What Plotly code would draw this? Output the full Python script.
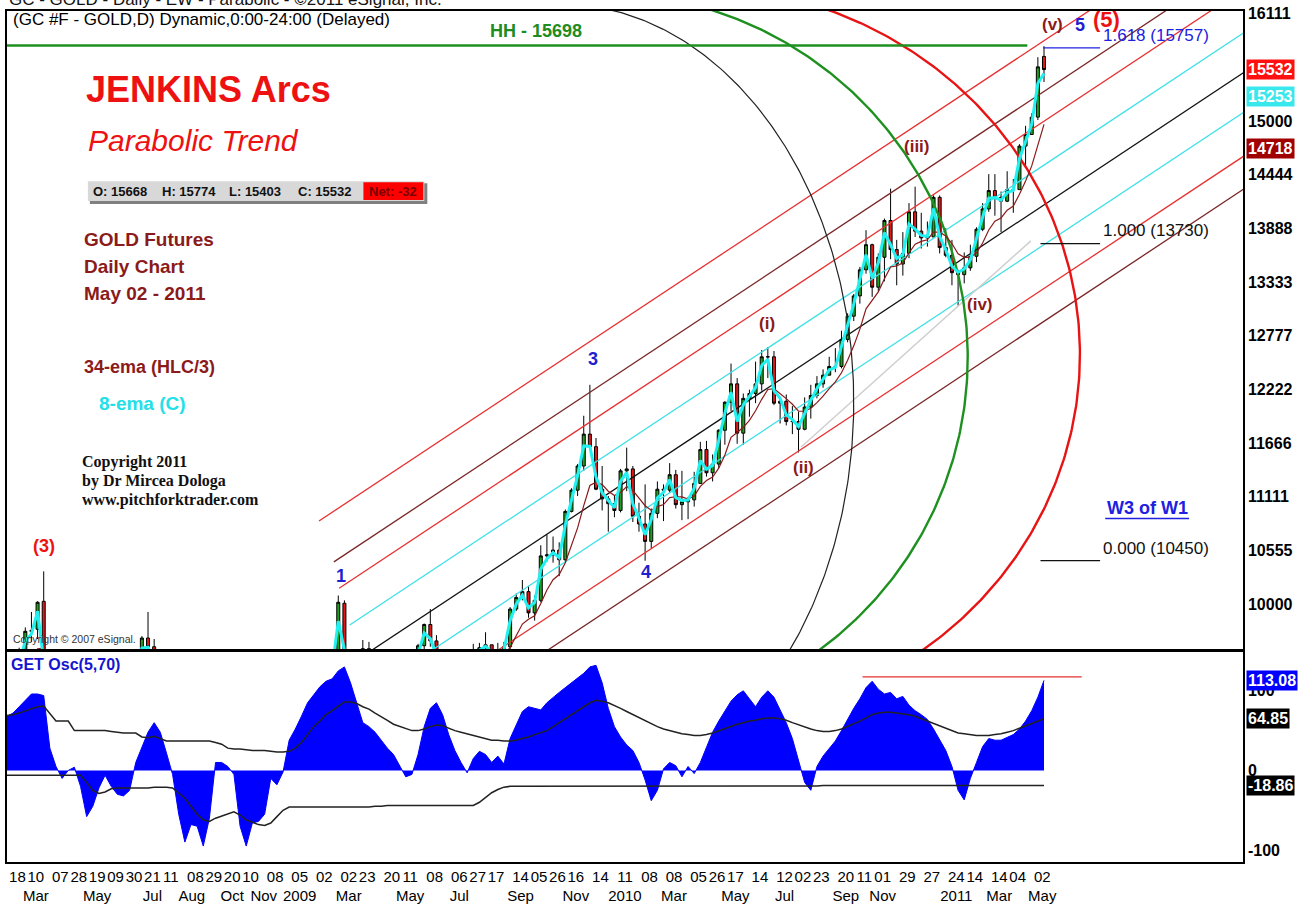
import numpy as np
import pandas as pd
import plotly.graph_objects as go

# ---------------- DATA (weekly bars, values as shown on chart) ----------------
first_monday = "2008-02-04"
last_monday = "2011-05-02"

opens = [
    9100, 9230, 9100, 9490, 9730, 9740, 10030, 9200, 9320, 9150, 9270, 9270, 8880, 8590, 8870, 8860, 9260,
    8870, 9020, 8720, 9030, 9310, 9320, 9650, 9560, 9280, 9120, 8620, 7860, 8320, 8350, 8010, 7650, 8650,
    8850, 8350, 8600, 7860, 7250, 7180, 7370, 7460, 8010, 8150, 7540, 8230, 8410, 8720,
    8790, 8520, 8350, 8990, 9200, 9140, 9440, 10010, 9400, 9400, 9300, 9540, 9220, 8980, 8830, 8710, 9120,
    8860, 9170, 9310, 9570, 9790, 9620, 9400, 9370, 9410, 9330, 9110, 9370, 9530, 9550, 9580, 9480, 9430,
    9560, 9950, 10070, 10130, 9910, 10040, 10500, 10510, 10560, 10460, 10960, 11180, 11430, 11760, 11630,
    11190, 11090, 11040,
    10970, 11380, 11400, 10910, 10830, 10650, 10940, 11190, 11180, 11340, 11030, 11060, 11080, 11250, 11600,
    11360, 11450, 11800, 12090, 12280, 11770, 12130, 12180, 12280, 12560, 12560, 12080, 12100, 11890, 11890,
    11810, 12040, 12160, 12280, 12370, 12460, 12460, 12740, 12980, 13190, 13460, 13720, 13280, 13590, 13970,
    13670, 13520, 13630, 14060, 13860, 13790, 13800,
    14210, 13690, 13610, 13430, 13410, 13480, 13600, 13880, 14090, 14280, 14210, 14170, 14290, 14290, 14740,
    14860, 15040, 15668]
highs = [
    9250, 9350, 9550, 9760, 9920, 10030, 10340, 9490, 9370, 9450, 9420, 9310, 8920, 8900, 8940, 9330, 9290,
    9040, 9050, 9100, 9340, 9510, 9670, 9920, 9640, 9370, 9140, 8670, 8400, 8480, 8430, 8100, 9120, 9250,
    9090, 9400, 8700, 7930, 7930, 7760, 7560, 8060, 8300, 8160, 8320, 8830, 8760, 8900,
    8850, 8520, 9020, 9210, 9280, 9490, 10090, 10040, 9470, 9410, 9630, 9610, 9300, 8980, 8980, 9200, 9130,
    9200, 9340, 9590, 9800, 9950, 9680, 9490, 9480, 9490, 9370, 9380, 9590, 9600, 9710, 9580, 9600, 9610,
    9970, 10110, 10250, 10190, 10090, 10610, 10720, 10700, 10640, 10980, 11200, 11450, 11950, 12270, 11720,
    11430, 11120, 11120,
    11400, 11620, 11430, 11050, 11240, 10990, 11270, 11240, 11460, 11390, 11380, 11110, 11370, 11680, 11690,
    11550, 11810, 12100, 12490, 12340, 12180, 12220, 12510, 12630, 12660, 12620, 12140, 12170, 12050, 11990,
    12140, 12270, 12360, 12430, 12560, 12650, 12830, 13010, 13210, 13490, 13870, 13730, 13630, 13990, 14300,
    13770, 13850, 14150, 14320, 14050, 13960, 14230,
    14230, 13890, 13770, 13460, 13640, 13720, 13900, 14150, 14450, 14450, 14270, 14480, 14400, 14760, 14950,
    15080, 15660, 15774]
lows = [
    8870, 9040, 9060, 9430, 9610, 9640, 9160, 9110, 8750, 9080, 9060, 8840, 8470, 8580, 8590, 8850, 8690,
    8700, 8580, 8700, 8800, 9210, 9170, 9480, 9120, 8950, 8590, 7720, 7790, 8150, 7880, 7400, 7650, 8630,
    8310, 8340, 7810, 6810, 7130, 7180, 7040, 7220, 7900, 7400, 7500, 8220, 8330, 8600,
    8410, 7960, 8300, 8810, 8880, 9100, 9420, 9360, 9050, 8940, 8950, 9150, 8750, 8640, 8640, 8710, 8810,
    8860, 9100, 9220, 9450, 9560, 9380, 9250, 9220, 9280, 9080, 9100, 9340, 9350, 9470, 9370, 9300, 9380,
    9480, 9930, 10040, 9860, 9830, 10020, 10440, 10430, 10290, 10430, 10950, 11120, 11380, 11600, 11180,
    10970, 10750, 10900,
    10950, 11170, 10850, 10750, 10450, 10580, 10890, 10860, 11150, 10990, 10870, 10880, 11010, 11250, 11320,
    11270, 11410, 11650, 12000, 11660, 11650, 11940, 12080, 12210, 12340, 12060, 11870, 11850, 11760, 11570,
    11800, 11920, 12130, 12240, 12370, 12400, 12440, 12710, 12930, 13110, 13420, 13180, 13240, 13340, 13570,
    13300, 13400, 13580, 13800, 13680, 13700, 13800,
    13630, 13590, 13300, 13090, 13320, 13450, 13540, 13860, 14060, 14020, 13850, 14160, 14050, 14290, 14530,
    14860, 15010, 15403]
closes = [
    9230, 9080, 9480, 9720, 9720, 10020, 9210, 9330, 9140, 9260, 9280, 8890, 8580, 8860, 8840, 9250, 8870,
    9030, 8720, 9030, 9300, 9320, 9650, 9560, 9280, 9130, 8630, 7860, 8310, 8370, 8020, 7630, 8650, 8850,
    8350, 8600, 7860, 7250, 7180, 7360, 7460, 8000, 8150, 7530, 8230, 8400, 8720, 8790,
    8530, 8360, 8990, 9190, 9140, 9420, 10020, 9410, 9400, 9300, 9540, 9220, 8980, 8830, 8710, 9120, 8860,
    9170, 9310, 9570, 9790, 9620, 9400, 9370, 9410, 9330, 9110, 9370, 9530, 9550, 9580, 9480, 9430, 9560,
    9950, 10070, 10130, 9910, 10040, 10500, 10510, 10560, 10460, 10960, 11180, 11430, 11760, 11630, 11190,
    11090, 11040, 10970,
    11380, 11400, 10910, 10830, 10650, 10940, 11190, 11180, 11340, 11030, 11060, 11080, 11250, 11600, 11360,
    11450, 11800, 12090, 12280, 11770, 12130, 12180, 12280, 12560, 12560, 12080, 12100, 11890, 11890, 11810,
    12040, 12160, 12280, 12370, 12460, 12460, 12740, 12980, 13190, 13460, 13720, 13280, 13590, 13970, 13670,
    13520, 13630, 14060, 13860, 13790, 13800, 14210,
    13690, 13610, 13430, 13410, 13480, 13600, 13880, 14090, 14280, 14210, 14170, 14290, 14290, 14740, 14860,
    15040, 15560, 15532]

# GET oscillator (5,70) and its two bands, one value per weekly bar
osc_values = [
    68, 72, 80, 88, 96, 96, 94, 28, 5, -10, 0, 4, -20, -58, -45, -22, -6, -20, -30, -32,
    -25, 10, 30, 48, 60, 48, 22, -5, -55, -90, -68, -70, -95, -60, 10, 10, 5, -5, -70, -95,
    -66, -64, -55, -10, -18, -2, 38, 52, 68, 85, 95, 105, 112, 115, 125, 130, 110, 85, 60, 55,
    48, 38, 28, 20, 5, -8, -5, 20, 55, 78, 85, 70, 45, 25, 10, -3, 15, 24, 20, 10,
    18, 8, 40, 58, 74, 80, 78, 76, 85, 92, 98, 104, 110, 115, 122, 130, 132, 110, 78, 55,
    42, 32, 25, 10, -12, -38, -25, 2, 10, 6, -8, 5, -4, 10, 30, 48, 62, 75, 87, 95,
    100, 90, 80, 92, 100, 92, 75, 60, 40, 12, -15, -25, 5, 18, 28, 37, 50, 65, 78, 90,
    104, 112, 102, 96, 98, 90, 93, 82, 75, 70, 64, 52, 38, 25, 5, -25, -37, -10, 10, 30,
    40, 38, 38, 42, 45, 52, 62, 75, 92, 113.08]
osc_upper = [
    69, 70, 72, 75, 78, 80, 81, 72, 62, 62, 62, 50, 50, 50, 50, 50, 50, 49, 48, 47,
    47, 47, 42, 41, 43, 40, 37, 37, 37, 37, 37, 37, 37, 37, 35, 33, 28, 27, 27, 26,
    25, 25, 25, 24, 23, 23, 24, 28, 35, 45, 55, 62, 70, 75, 80, 86, 86, 84, 80, 77,
    72, 68, 63, 58, 55, 52, 50, 50, 52, 55, 57, 56, 53, 50, 48, 46, 44, 42, 40, 38,
    38, 37, 37, 38, 40, 42, 45, 48, 50, 55, 60, 65, 70, 75, 80, 85, 88, 87, 85, 82,
    78, 74, 70, 66, 62, 58, 55, 52, 50, 48, 46, 45, 44, 44, 45, 47, 50, 53, 56, 58,
    60, 62, 63, 65, 66, 66, 65, 63, 60, 57, 55, 52, 50, 49, 49, 50, 52, 55, 58, 62,
    66, 70, 72, 73, 73, 72, 71, 70, 68, 65, 62, 58, 55, 52, 49, 47, 46, 45, 44, 44,
    44, 45, 46, 48, 50, 53, 56, 59, 62, 64.85]
osc_lower = [
    -6, -6, -6, -6, -6, -6, -6, -6, -6, -6, -6, -6, -6, -15, -25, -29, -27, -23, -22, -22,
    -22, -22, -22, -22, -21, -21, -21, -22, -28, -35, -45, -55, -62, -64, -60, -57, -54, -52, -56, -62,
    -65, -68, -69, -66, -58, -50, -46, -46, -46, -46, -46, -46, -46, -46, -46, -46, -46, -46, -46, -46,
    -45, -45, -44, -44, -44, -44, -44, -44, -44, -44, -44, -44, -44, -44, -44, -44, -44, -40, -34, -28,
    -24, -21, -20, -20, -20, -20, -20, -20, -20, -20, -20, -20, -20, -20, -20, -20, -20, -20, -20, -20,
    -20, -20, -20, -20, -20, -20, -20, -20, -20, -20, -20, -20, -20, -20, -19.5, -19.5, -19.5, -19.5, -19.5, -19.5,
    -19.5, -19.5, -19.5, -19.5, -19.5, -19.5, -19.5, -19.5, -19.5, -19.5, -19.5, -19.5, -19.5, -19, -19, -19, -19, -19, -19, -19,
    -19, -19, -19, -19, -19, -19, -19, -19, -19, -19, -19, -19, -19, -19, -19, -19, -19, -19, -19, -19,
    -19, -19, -19, -19, -19, -18.9, -18.9, -18.9, -18.9, -18.86]
osc_resistance = 117.5
osc_resistance_dates = ["2010-10-09", "2011-06-16"]

# x-axis labels
day_tick_dates = [
    "2008-02-18", "2008-03-10", "2008-04-07", "2008-04-28", "2008-05-19", "2008-06-09", "2008-06-30",
    "2008-07-21", "2008-08-11", "2008-09-08", "2008-09-29", "2008-10-20", "2008-11-10", "2008-12-08",
    "2009-01-05", "2009-02-02", "2009-03-02", "2009-03-23", "2009-04-20", "2009-05-11", "2009-06-08",
    "2009-07-06", "2009-07-27", "2009-08-17", "2009-09-14", "2009-10-05", "2009-10-26", "2009-11-16",
    "2009-12-14", "2010-01-11", "2010-02-08", "2010-03-08", "2010-04-05", "2010-04-26", "2010-05-17",
    "2010-06-14", "2010-07-12", "2010-08-02", "2010-08-23", "2010-09-20", "2010-10-11", "2010-11-01",
    "2010-11-29", "2010-12-27", "2011-01-24", "2011-02-14", "2011-03-14", "2011-04-04", "2011-05-02"]
day_tick_text = ["18", "10", "07", "28", "19", "09", "30", "21", "11", "08", "29", "20", "10", "08",
                 "05", "02", "02", "23", "20", "11", "08", "06", "27", "17", "14", "05", "26", "16", "14",
                 "11", "08", "08", "05", "26", "17", "14", "12", "02", "23", "20", "11", "01", "29", "27",
                 "24", "14", "14", "04", "02"]
month_tick_dates = ["2008-03-10", "2008-05-19", "2008-07-21", "2008-09-04", "2008-10-20", "2008-11-25",
                    "2009-01-05", "2009-03-02", "2009-05-11", "2009-07-06", "2009-09-14", "2009-11-16",
                    "2010-01-11", "2010-03-08", "2010-05-17", "2010-07-12", "2010-09-20", "2010-11-01",
                    "2011-01-24", "2011-03-14", "2011-05-02"]
month_tick_text = ["Mar", "May", "Jul", "Aug", "Oct", "Nov", "2009", "Mar", "May", "Jul", "Sep", "Nov",
                   "2010", "Mar", "May", "Jul", "Sep", "Nov", "2011", "Mar", "May"]

price_ticks = [10000, 10555, 11111, 11666, 12222, 12777, 13333, 13888, 14444, 15000, 16111]
osc_ticks = [-100, 0, 100]

# Parallel trend channel (price at 2011-05-02 anchor, common slope per day)
channel_anchor_date = "2011-05-02"
channel_anchor_prices = [15819, 15294, 14985, 14532, 14120, 13708, 13255, 12915]
channel_start_dates = ["2009-01-27", "2009-02-13", "2009-02-19", "2009-03-03",
                       "2009-02-19", "2009-02-19", "2009-02-19", "2009-02-19"]
channel_end_date = "2012-03-01"
channel_slope_per_day = 6.01
channel_colors = ["#E83030", "#7A2626", "#E83030", "#3EE0E6", "#111111", "#3EE0E6", "#E83030", "#7A2626"]

# Jenkins arcs (ellipses in price/time, right halves)
arc_center_dates = ["2009-10-29", "2009-12-15", "2010-03-27"]
arc_center_prices = [12091, 12554, 12585]
arc_radius_days = [335, 418, 444]
arc_radius_prices = [4120, 3769, 3811]
arc_colors = ["#222222", "#1E9020", "#E81414"]
arc_widths = [1.2, 2.4, 2.4]

hh_line_price = 15780
hh_line_dates = ["2008-02-01", "2011-04-15"]
fib_prices = [15757, 13730, 10450]
fib_dates = [["2011-05-03", "2011-07-07"], ["2011-04-30", "2011-07-07"], ["2011-04-30", "2011-07-07"]]
fib_colors = ["#2020E0", "#111111", "#111111"]
gray_line_dates = ["2010-07-31", "2011-04-19"]
gray_line_prices = [11627, 13760]

# ---------------- derived ----------------
mondays = pd.date_range(first_monday, last_monday, freq="W-MON")
bar_x = mondays + pd.Timedelta(days=2)
O = np.array(opens, float); Hh = np.array(highs, float); Ll = np.array(lows, float); C = np.array(closes, float)
ema8 = pd.Series(C).ewm(alpha=0.715, adjust=False).mean()           # 8-day EMA of close on weekly bars
ema34 = pd.Series((Hh + Ll + C) / 3).ewm(alpha=0.255, adjust=False).mean()  # 34-day EMA of HLC/3

W, Hgt = 1300, 911
ML, MR, MT, MB = 5, 57, 7, 49
PW, PH = W - ML - MR, Hgt - MT - MB


def fx(px):
    return (px - ML) / PW


def fy(py):
    return (Hgt - MB - py) / PH


x_range = ["2008-02-06 03:00", "2011-12-17"]
y_range = [9536.5, 16138]
y2_range = [-115, 148.75]

fig = go.Figure()

# channel lines
anchor = pd.Timestamp(channel_anchor_date)
for p, sd, col in zip(channel_anchor_prices, channel_start_dates, channel_colors):
    s = pd.Timestamp(sd); e = pd.Timestamp(channel_end_date)
    ps = p - channel_slope_per_day * (anchor - s).days
    pe = p + channel_slope_per_day * (e - anchor).days
    fig.add_trace(go.Scatter(x=[s, e], y=[ps, pe], mode="lines", line=dict(color=col, width=1.3),
                             hoverinfo="skip"))

# gray line
fig.add_trace(go.Scatter(x=gray_line_dates, y=gray_line_prices, mode="lines",
                         line=dict(color="#CFCFCF", width=1.5), hoverinfo="skip"))

# arcs
t = np.linspace(-np.pi / 2, np.pi / 2, 300)
for cd, cp, rd, rp, col, w in zip(arc_center_dates, arc_center_prices, arc_radius_days,
                                  arc_radius_prices, arc_colors, arc_widths):
    xs = pd.Timestamp(cd) + pd.to_timedelta(rd * np.cos(t), unit="D")
    ys = cp - rp * np.sin(t)
    fig.add_trace(go.Scatter(x=xs, y=ys, mode="lines", line=dict(color=col, width=w), hoverinfo="skip"))

# HH line and fib marks
fig.add_trace(go.Scatter(x=hh_line_dates, y=[hh_line_price] * 2, mode="lines",
                         line=dict(color="#1E9020", width=2.5), hoverinfo="skip"))
for p, d, col in zip(fib_prices, fib_dates, fib_colors):
    fig.add_trace(go.Scatter(x=d, y=[p, p], mode="lines", line=dict(color=col, width=1.3), hoverinfo="skip"))

# candles
fig.add_trace(go.Candlestick(
    x=bar_x, open=O, high=Hh, low=Ll, close=C,
    increasing=dict(fillcolor="#1FA01F", line=dict(color="#000000", width=1)),
    decreasing=dict(fillcolor="#E01818", line=dict(color="#000000", width=1)),
    whiskerwidth=0, hoverinfo="skip"))

# EMAs
fig.add_trace(go.Scatter(x=bar_x, y=ema34, mode="lines", line=dict(color="#8B1A1A", width=1.2),
                         hoverinfo="skip"))
fig.add_trace(go.Scatter(x=bar_x, y=ema8, mode="lines", line=dict(color="#22F0F0", width=3),
                         hoverinfo="skip"))

# oscillator
fig.add_trace(go.Scatter(x=bar_x, y=osc_values, mode="lines", fill="tozeroy", fillcolor="#0000FF",
                         line=dict(color="#0000FF", width=1), xaxis="x2", yaxis="y2", hoverinfo="skip"))
fig.add_trace(go.Scatter(x=bar_x, y=osc_upper, mode="lines", line=dict(color="#222222", width=1.5),
                         xaxis="x2", yaxis="y2", hoverinfo="skip"))
fig.add_trace(go.Scatter(x=bar_x, y=osc_lower, mode="lines", line=dict(color="#222222", width=1.5),
                         xaxis="x2", yaxis="y2", hoverinfo="skip"))
fig.add_trace(go.Scatter(x=osc_resistance_dates, y=[osc_resistance] * 2, mode="lines",
                         line=dict(color="#E83030", width=1.3), xaxis="x2", yaxis="y2", hoverinfo="skip"))

# x tick labels (day row + month row on a second line)
month_map = dict(zip(month_tick_dates, month_tick_text))
x_tickvals, x_ticktext = [], []
for v, d in zip(day_tick_dates, day_tick_text):
    x_tickvals.append(v)
    x_ticktext.append(d + ("<br>" + month_map[v] if v in month_map else ""))
for v, m in zip(month_tick_dates, month_tick_text):
    if v not in day_tick_dates:
        x_tickvals.append(v)
        x_ticktext.append(" <br>" + m)

FONT = "Liberation Sans"
axis_common = dict(showgrid=False, zeroline=False, showline=True, mirror=True, linecolor="#000000",
                   linewidth=1.5, ticks="")
fig.update_layout(
    width=W, height=Hgt, margin=dict(l=ML, r=MR, t=MT, b=MB),
    paper_bgcolor="white", plot_bgcolor="white", showlegend=False,
    xaxis=dict(domain=[0, 1], anchor="y", type="date", range=x_range, showticklabels=False,
               rangeslider=dict(visible=False), **axis_common),
    yaxis=dict(domain=[fy(648), 1], anchor="x", side="right", range=y_range, tickvals=price_ticks,
               ticktext=[str(v) for v in price_ticks], ticklabeloverflow="allow",
               tickfont=dict(family=FONT, size=16, color="#000000", weight="bold"), **axis_common),
    xaxis2=dict(domain=[0, 1], anchor="y2", type="date", range=x_range, tickvals=x_tickvals,
                ticktext=x_ticktext, tickangle=0, ticklabeloverflow="allow",
                tickfont=dict(family=FONT, size=15, color="#000000"), **axis_common),
    yaxis2=dict(domain=[0, fy(651)], anchor="x2", side="right", range=y2_range, tickvals=osc_ticks,
                ticktext=[str(v) for v in osc_ticks], ticklabeloverflow="allow",
                tickfont=dict(family=FONT, size=16, color="#000000", weight="bold"), **axis_common),
)

ann = []


def text(s, x, y, size, color, anchor="left", family=FONT, **kw):
    ann.append(dict(text=s, x=fx(x), y=fy(y), xref="paper", yref="paper", xanchor=anchor,
                    yanchor="middle", showarrow=False, font=dict(family=family, size=size, color=color), **kw))


text("GC - GOLD - Daily - EW - Parabolic - ©2011 eSignal, Inc.", 5, -5, 17, "#111111")
text("(GC #F - GOLD,D) Dynamic,0:00-24:00 (Delayed)", 9, 16, 17, "#000000")
text("<b>HH - 15698</b>", 535, 27, 18, "#1E8C1E", anchor="center")
text("<b>JENKINS Arcs</b>", 82, 86, 36, "#EE1111")
text("<i>Parabolic Trend</i>", 84, 137, 30, "#EE1111")
for s, y in [("GOLD Futures", 237), ("Daily Chart", 264), ("May 02 - 2011", 291)]:
    text("<b>" + s + "</b>", 80, y, 19, "#8B1A1A")
text("<b>34-ema (HLC/3)</b>", 80, 365, 18, "#8B1A1A")
text("<b>8-ema (C)</b>", 95, 401, 19, "#22E0E8")
for s, y in [("Copyright 2011", 460), ("by Dr Mircea Dologa", 479), ("www.pitchforktrader.com", 498)]:
    text("<b>" + s + "</b>", 78, y, 16, "#111111", family="Liberation Serif")
text("Copyright © 2007 eSignal.", 9, 638, 10.5, "#333333")
text("<b>GET Osc(5,70)</b>", 7, 664, 16, "#1515D0")

# OHLC strip
for s, x in [("O: 15668", 118), ("H: 15774", 187), ("L: 15403", 253), ("C: 15532", 323)]:
    text("<b>" + s + "</b>", x, 188, 13, "#111111", anchor="center")
text("<b>Net: -32</b>", 392, 188, 13, "#7A0000", anchor="center")

# wave labels
text("<b>(3)</b>", 42, 545, 18, "#EE1111", anchor="center")
for s, x, y in [("1", 340, 575), ("3", 592, 357), ("4", 645, 571), ("5", 1080, 21)]:
    text("<b>" + s + "</b>", x, y, 18, "#1F1FD0", anchor="center")
for s, x, y in [("(i)", 766, 321), ("(ii)", 803, 466), ("(iii)", 916, 143), ("(iv)", 980, 302), ("(v)", 1052, 21)]:
    text("<b>" + s + "</b>", x, y, 17, "#8B1A1A", anchor="center")
text("<b>(5)</b>", 1106, 16, 22, "#EE1111", anchor="center")

# fib labels
text("1.618 (15757)", 1101, 32, 17, "#2020E0")
text("1.000 (13730)", 1101, 228, 17, "#111111")
text("0.000 (10450)", 1101, 547, 17, "#111111")
text("<b>W3 of W1</b>", 1105, 506, 18, "#2020E0")

# right-hand value boxes
for v, bg in [(15532, "#FF1010"), (15253, "#38E8EC"), (14718, "#A00000")]:
    ann.append(dict(text="<b>" + str(v) + "</b>", x=fx(1246), y=v, xref="paper", yref="y", xanchor="left",
                    yanchor="middle", showarrow=False, bgcolor=bg, borderpad=1,
                    font=dict(family=FONT, size=16, color="#FFFFFF")))
for v, s, bg in [(113.08, "113.08", "#0000FF"), (64.85, "64.85", "#000000"), (-18.86, "-18.86", "#000000")]:
    ann.append(dict(text="<b>" + s + "</b>", x=fx(1246), y=v, xref="paper", yref="y2", xanchor="left",
                    yanchor="middle", showarrow=False, bgcolor=bg, borderpad=1,
                    font=dict(family=FONT, size=16, color="#FFFFFF")))

fig.update_layout(annotations=ann)

shapes = [
    dict(type="rect", xref="paper", yref="paper", x0=fx(88), x1=fx(426), y0=fy(201), y1=fy(180),
         fillcolor="#808080", line=dict(width=0), layer="above"),
    dict(type="rect", xref="paper", yref="paper", x0=fx(86), x1=fx(423), y0=fy(198), y1=fy(178),
         fillcolor="#D8D8D8", line=dict(width=0), layer="above"),
    dict(type="rect", xref="paper", yref="paper", x0=fx(362), x1=fx(422), y0=fy(197), y1=fy(179),
         fillcolor="#FF0000", line=dict(width=0), layer="above"),
    dict(type="line", xref="paper", yref="paper", x0=fx(1105), x1=fx(1189), y0=fy(517), y1=fy(517),
         line=dict(color="#2020E0", width=1.5)),
]
fig.update_layout(shapes=shapes)

fig.write_html("out.html", config={"displayModeBar": False})

# remove the browser's default page margin so the figure sits at the window origin
with open("out.html", "r", encoding="utf-8") as f:
    html = f.read()
html = html.replace("<head>", "<head><style>html,body{margin:0;padding:0;overflow:hidden;}</style>", 1)
with open("out.html", "w", encoding="utf-8") as f:
    f.write(html)
